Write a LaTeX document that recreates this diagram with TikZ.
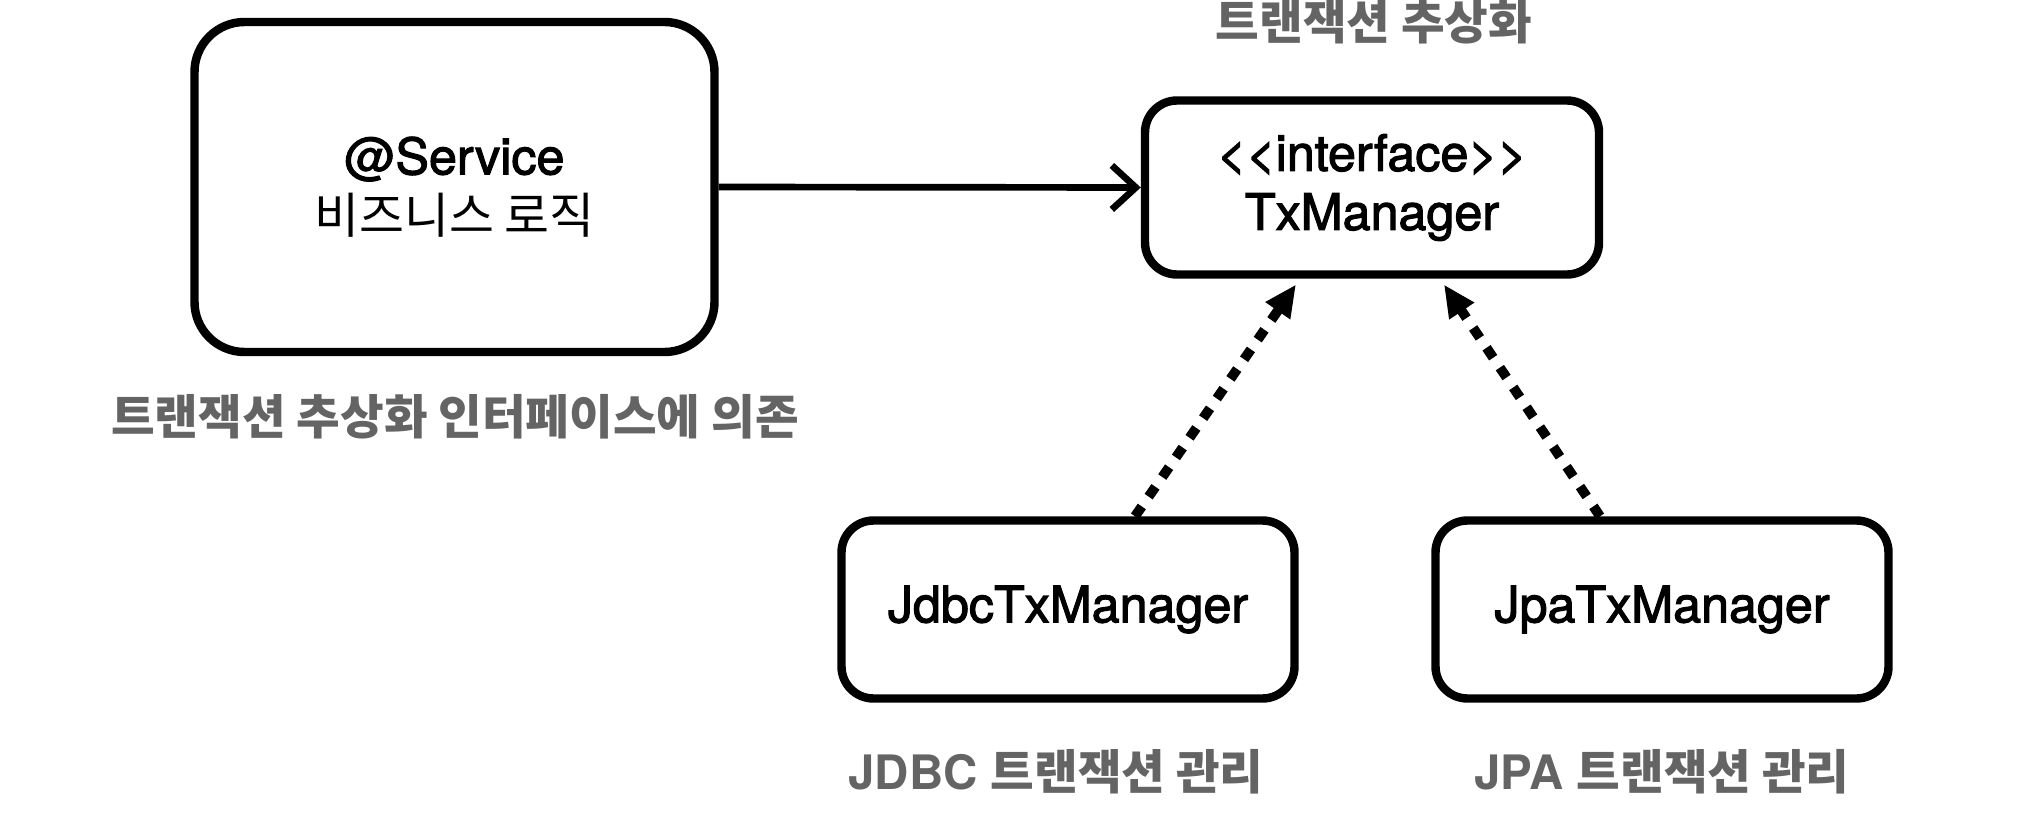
\documentclass[tikz,border=0pt]{standalone}
\usepackage{fontspec}
\setmainfont{TeX Gyre Heros}
\newfontfamily\medfont{TeX Gyre Heros}[FakeBold=2.2]
\newfontfamily\krfont{Noto Sans CJK KR}
\usetikzlibrary{arrows.meta, positioning}
\definecolor{notegray}{RGB}{100,100,100}

\begin{document}
\begin{tikzpicture}[>={Straight Barb[length=2.4mm, width=4.4mm]},
			box/.style={draw=black, line width=2.4pt, rounded corners=0.32cm, align=center,
				font=\medfont\fontsize{14.3}{16.8}\selectfont},
			note/.style={text=notegray, font=\bfseries\fontsize{13.5}{16}\selectfont},
			realize/.style={line width=2.8pt, dash pattern=on 3.4pt off 3.4pt,
				-{Triangle[length=3.2mm, width=2.8mm]}, shorten >=2pt}]

			\useasboundingbox (0,0) rectangle (20.32,-8.2);

			% boxes
			\node[box, rounded corners=0.5cm, minimum width=5.2cm, minimum height=3.3cm] (service) at (4.545,-1.87) {@Service\\{\krfont\fontsize{13.9}{16.8}\selectfont 비즈니스 로직}};
			\node[box, minimum width=4.54cm, minimum height=1.74cm] (iface) at (13.72,-1.875) {{<}{<}interface{>}{>}\\TxManager};
			\node[box, minimum width=4.53cm, minimum height=1.78cm] (jdbc) at (10.68,-6.095) {JdbcTxManager};
			\node[box, minimum width=4.53cm, minimum height=1.78cm] (jpa) at (16.62,-6.095) {JpaTxManager};

			% labels
			\node[note] (ifacenote) at (13.74,-0.22) {\krfont 트랜잭션 추상화};
			\node[note] (servicenote) at (4.55,-4.17) {\krfont 트랜잭션 추상화 인터페이스에 의존};
			\node[note] (jdbcnote) at (10.56,-7.72) {JDBC {\krfont 트랜잭션 관리}};
			\node[note] (jpanote) at (16.62,-7.72) {JPA {\krfont 트랜잭션 관리}};

			% arrows
			\draw[->, line width=1.9pt] (service.east) -- (iface.west);
			\draw[realize] ([xshift=6.7mm]jdbc.north) -- ([xshift=-7.2mm]iface.south);
			\draw[realize] ([xshift=-6.2mm]jpa.north) -- ([xshift=6.8mm]iface.south);
		\end{tikzpicture}
\end{document}
